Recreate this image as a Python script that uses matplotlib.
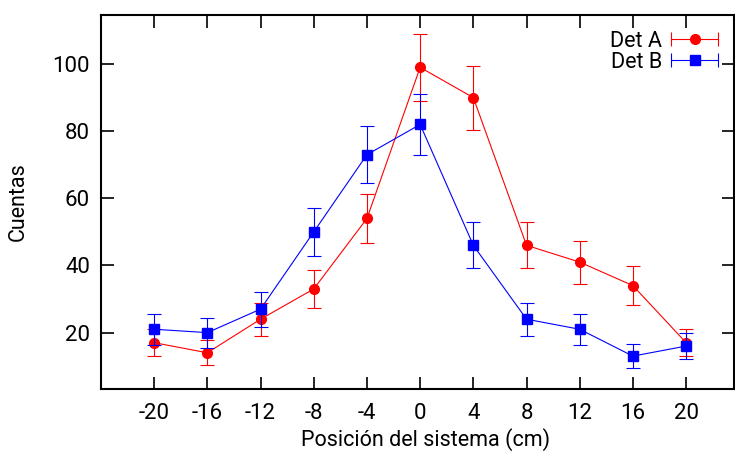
import matplotlib
matplotlib.use("Agg")
import matplotlib.pyplot as plt
from matplotlib.lines import Line2D
from matplotlib.legend_handler import HandlerLine2D, HandlerTuple

# Scan positions (cm) and measured counts per detector
posicion = [-20, -16, -12, -8, -4, 0, 4, 8, 12, 16, 20]
det_a = [17, 14, 24, 33, 54, 99, 90, 46, 41, 34, 17]
err_a = [4.1, 3.7, 4.9, 5.7, 7.3, 9.9, 9.5, 6.8, 6.4, 5.8, 4.1]
det_b = [21, 20, 27, 50, 73, 82, 46, 24, 21, 13, 16]
err_b = [4.6, 4.5, 5.2, 7.1, 8.5, 9.1, 6.8, 4.9, 4.6, 3.6, 4.0]

x_ticks = [-20, -16, -12, -8, -4, 0, 4, 8, 12, 16, 20]
y_ticks = [20, 40, 60, 80, 100]

plt.rcParams['font.family'] = ['Roboto', 'DejaVu Sans']
fs_tick = 16
fs_label = 15.5
fs_leg = 15.5

fig = plt.figure(figsize=(7.35, 4.55), dpi=100)
ax = fig.add_axes([0.1374, 0.145, 0.8612, 0.822])

red = '#ff0000'
blue = '#0000ff'

ax.errorbar(posicion, det_a, yerr=err_a, color=red, lw=0.8, elinewidth=0.8,
            capsize=4.7, capthick=0.8, marker='o', markersize=7, zorder=3)
ax.errorbar(posicion, det_b, yerr=err_b, color=blue, lw=0.8, elinewidth=0.8,
            capsize=4.7, capthick=0.8, marker='s', markersize=7, zorder=4)

ax.set_xlim(-24, 23.6)
ax.set_ylim(3.2, 114.6)
ax.set_xticks(x_ticks)
ax.set_xticklabels([str(v) for v in x_ticks])
ax.set_yticks(y_ticks)
ax.tick_params(direction='in', length=9, width=1.2, top=True, right=True,
               labelsize=fs_tick)
ax.tick_params(axis='x', pad=10)
ax.tick_params(axis='y', pad=8)
for s in ax.spines.values():
    s.set_linewidth(1.5)

ax.set_xlabel('Posición del sistema (cm)', fontsize=fs_label, labelpad=5)
ax.xaxis.set_label_coords(0.513, -0.105)
ax.set_ylabel('Cuentas', fontsize=fs_label, labelpad=17)

# Legend entries: horizontal error bar with the marker in the middle
caps_a = Line2D([], [], color=red, lw=0.8, marker='|', markersize=9.5, mew=0.8)
dot_a = Line2D([], [], color=red, ls='none', marker='o', markersize=7)
caps_b = Line2D([], [], color=blue, lw=0.8, marker='|', markersize=9.5, mew=0.8)
dot_b = Line2D([], [], color=blue, ls='none', marker='s', markersize=7)
hmap = {caps_a: HandlerLine2D(numpoints=2), caps_b: HandlerLine2D(numpoints=2),
        dot_a: HandlerLine2D(numpoints=1), dot_b: HandlerLine2D(numpoints=1)}
ax.legend([(caps_a, dot_a), (caps_b, dot_b)], ['Det A', 'Det B'],
          handler_map={**hmap, tuple: HandlerTuple(ndivide=1)},
          loc='upper right', bbox_to_anchor=(1.005, 0.993), frameon=False,
          markerfirst=False, handlelength=2.75, handletextpad=0.15,
          labelspacing=0.0, fontsize=fs_leg, borderaxespad=0.2)

fig.savefig('out.png', dpi=100)
